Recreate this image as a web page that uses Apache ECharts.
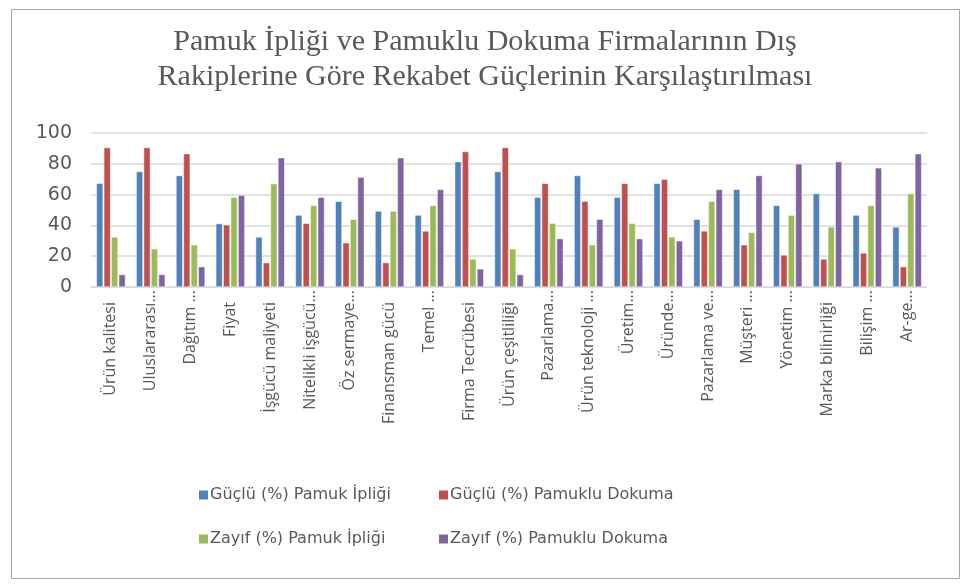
<!DOCTYPE html>
<html><head><meta charset="utf-8">
<script src="https://cdn.jsdelivr.net/npm/echarts@6/dist/echarts.min.js"></script>
<style>html,body{margin:0;padding:0;background:#fff}#c{width:970px;height:588px}</style>
</head><body><div id="c"></div>
<script>
const categories = ["Ürün kalitesi","Uluslararası...","Dağıtım ...","Fiyat","İşgücü maliyeti","Nitelikli işgücü...","Öz sermaye...","Finansman gücü","Temel ...","Firma Tecrübesi","Ürün çeşitliliği","Pazarlama...","Ürün teknoloji ...","Üretim...","Üründe...","Pazarlama ve...","Müşteri ...","Yönetim ...","Marka bilinirliği","Bilişim ...","Ar-ge..."];
const seriesNames = ["Güçlü (%) Pamuk İpliği","Güçlü (%) Pamuklu Dokuma","Zayıf (%) Pamuk İpliği","Zayıf (%) Pamuklu Dokuma"];
const strongYarn = [67.3,75.0,72.4,41.2,32.5,46.7,55.7,49.3,46.7,81.4,75.0,58.3,72.4,58.3,67.3,44.0,63.4,53.0,60.7,46.7,39.0];
const strongWeave = [90.6,90.6,86.6,40.4,15.8,41.4,28.7,15.8,36.4,88.0,90.6,67.3,55.7,67.3,70.0,36.4,27.4,20.8,18.2,22.1,13.2];
const weakYarn = [32.5,24.8,27.4,58.3,67.1,53.0,44.0,49.3,53.0,18.2,24.8,41.4,27.4,41.4,32.5,55.7,35.5,46.7,39.0,53.0,60.7];
const weakWeave = [8.1,8.1,13.2,59.6,84.0,58.3,71.3,84.0,63.4,11.8,8.1,31.4,44.0,31.4,30.0,63.4,72.4,80.0,81.4,77.4,86.6];
const yTicks = [0,20,40,60,80,100];
const titleLines = ["Pamuk İpliği ve Pamuklu Dokuma Firmalarının Dış","Rakiplerine Göre Rekabet Güçlerinin Karşılaştırılması"];

const colors = ["#4f81bd","#c0504d","#9bbb59","#8064a2"];
const values = [strongYarn, strongWeave, weakYarn, weakWeave];
const legendPos = [[199,487],[439,487],[199,531],[439,531]];
const isCut = v => v.endsWith('...');
const labelFont = {fontFamily:'Open Sans', fontSize:16, color:'#595959'};
const chart = echarts.init(document.getElementById('c'));
chart.setOption({
  animation:false,
  color: colors,
  title:{text:titleLines.join('\n'), left:'center', top:20,
    textStyle:{fontFamily:'Liberation Serif', fontSize:30, fontWeight:'normal', color:'#595959', lineHeight:35}},
  graphic:[{type:'rect', shape:{x:11.5,y:9.5,width:948,height:569}, style:{fill:'none', stroke:'#a6a6a6', lineWidth:1}}],
  legend: seriesNames.map((n,i)=>({data:[n], left:legendPos[i][0], top:legendPos[i][1], padding:0, itemWidth:9, itemHeight:9, itemGap:0, icon:'rect',
    itemStyle:{borderWidth:0},
    textStyle:{fontFamily:'DejaVu Sans', fontSize:16, color:'#595959', padding:[0,0,0,-3]}})),
  grid:{left:91, right:43, top:133, bottom:301},
  xAxis:[
    {type:'category', data:categories, position:'bottom',
      axisLine:{lineStyle:{color:'#d9d9d9'}}, axisTick:{show:false},
      axisLabel:Object.assign({rotate:90, interval:0, margin:15, formatter:v=> isCut(v) ? '' : v}, labelFont)},
    {type:'category', data:categories, position:'bottom',
      axisLine:{show:false}, axisTick:{show:false},
      axisLabel:Object.assign({rotate:90, interval:0, margin:3, formatter:v=> isCut(v) ? v : ''}, labelFont)}
  ],
  yAxis:{type:'value', min:yTicks[0], max:yTicks[yTicks.length-1], interval:yTicks[1]-yTicks[0],
    axisLine:{show:false}, axisTick:{show:false},
    splitLine:{lineStyle:{color:'#d9d9d9', width:1.5}},
    axisLabel:{margin:19, fontFamily:'DejaVu Sans', fontSize:19, color:'#595959'}},
  series: seriesNames.map((n,i)=>({name:n, type:'bar', xAxisIndex:0, data:values[i], barGap:'10%', barCategoryGap:'27%',
    itemStyle:{borderColor:'#ffffff', borderWidth:0.5}}))
});
</script></body></html>
